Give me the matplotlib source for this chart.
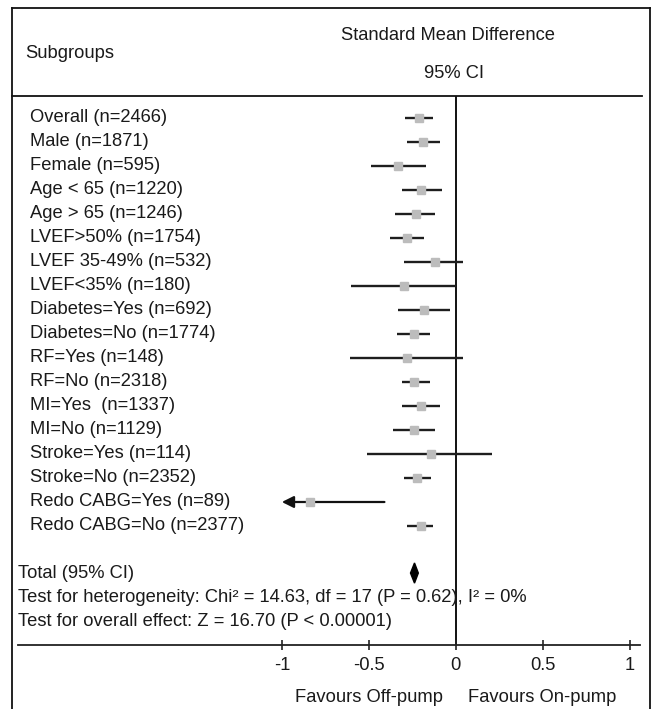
import numpy as np
import matplotlib
matplotlib.use("Agg")
import matplotlib.pyplot as plt
from matplotlib.lines import Line2D
from matplotlib.patches import Polygon

# -----------------------------
# Data
# -----------------------------
subgroups = [
    "Overall (n=2466)", "Male (n=1871)", "Female (n=595)",
    "Age < 65 (n=1220)", "Age > 65 (n=1246)", "LVEF>50% (n=1754)",
    "LVEF 35-49% (n=532)", "LVEF<35% (n=180)", "Diabetes=Yes (n=692)",
    "Diabetes=No (n=1774)", "RF=Yes (n=148)", "RF=No (n=2318)",
    "MI=Yes  (n=1337)", "MI=No (n=1129)", "Stroke=Yes (n=114)",
    "Stroke=No (n=2352)", "Redo CABG=Yes (n=89)", "Redo CABG=No (n=2377)",
]
smd = [-0.21, -0.19, -0.33, -0.20, -0.23, -0.28, -0.12, -0.30, -0.18,
       -0.24, -0.28, -0.24, -0.20, -0.24, -0.14, -0.22, -0.84, -0.20]
ci_low = [-0.29, -0.28, -0.49, -0.31, -0.35, -0.38, -0.30, -0.60, -0.33,
          -0.34, -0.61, -0.31, -0.31, -0.36, -0.51, -0.30, -1.20, -0.28]
ci_high = [-0.13, -0.09, -0.17, -0.08, -0.12, -0.18, 0.04, 0.00, -0.03,
           -0.15, 0.04, -0.15, -0.09, -0.12, 0.21, -0.14, -0.41, -0.13]

total = (-0.26, -0.237, -0.215)  # low, estimate, high
xticks = [-1, -0.5, 0, 0.5, 1]
xtick_labels = ["-1", "-0.5", "0", "0.5", "1"]

plt.rcParams["font.family"] = ["Liberation Sans", "DejaVu Sans"]
FS = 13.2
TXT = "#1a1a1a"

W, H = 654, 709
fig = plt.figure(figsize=(W / 100, H / 100), dpi=100)

# -----------------------------
# Axes placed in pixel terms
# -----------------------------
left_px, right_px, top_px, bot_px = 18, 640, 96, 645
ax = fig.add_axes([left_px / W, 1 - bot_px / H,
                   (right_px - left_px) / W, (bot_px - top_px) / H])
zero_px, unit_px = 455.7, 173.85
ax.set_xlim((left_px - zero_px) / unit_px, (right_px - zero_px) / unit_px)
row0, step = 118, 24.0
ax.set_ylim((bot_px - row0) / step, (top_px - row0) / step)

for s in ["left", "right", "top"]:
    ax.spines[s].set_visible(False)
ax.spines["bottom"].set_linewidth(1.3)
ax.spines["bottom"].set_color("#222222")
ax.set_yticks([])
ax.set_xticks(xticks)
ax.set_xticklabels(xtick_labels, fontsize=FS, color=TXT)
ax.tick_params(axis="x", direction="inout", length=7, width=1.2,
               color="#222222", pad=5)

ax.axvline(0, color="#111111", lw=1.4, zorder=1)

# -----------------------------
# Subgroup rows
# -----------------------------
for i, label in enumerate(subgroups):
    ax.text(0.019, i, label, transform=ax.get_yaxis_transform(),
            fontsize=FS, va="center", ha="left", color=TXT)
    lo, hi = ci_low[i], ci_high[i]
    if lo < -1:
        ax.annotate("", xy=(-1.0, i), xytext=(hi, i),
                    arrowprops=dict(arrowstyle="-|>,head_length=0.7,head_width=0.35",
                                    color="#111111", lw=1.6,
                                    shrinkA=0, shrinkB=0), zorder=2)
    else:
        ax.plot([lo, hi], [i, i], color="#1e1e1e", lw=1.7, zorder=2,
                solid_capstyle="butt")
    ax.plot(smd[i], i, marker="s", ms=6, color="#bcbcbc", mec="#bcbcbc",
            zorder=3)

# total diamond
ty = len(subgroups) + 0.96
lo, est, hi = total
h = 0.42
ax.add_patch(Polygon([[lo, ty], [est, ty - h], [hi, ty], [est, ty + h]],
                     closed=True, color="black", zorder=3))

bottom_text = [
    "Total (95% CI)",
    "Test for heterogeneity: Chi\u00b2 = 14.63, df = 17 (P = 0.62), I\u00b2 = 0%",
    "Test for overall effect: Z = 16.70 (P < 0.00001)",
]
for k, txt in enumerate(bottom_text):
    ax.text(0.0, ty + k * 1.02, txt, transform=ax.get_yaxis_transform(),
            fontsize=FS, va="center", ha="left", color=TXT)

# favours labels
ax.text(-0.5, -0.095, "Favours Off-pump", transform=ax.get_xaxis_transform(),
        fontsize=FS, ha="center", va="center", color=TXT)
ax.text(0.5, -0.095, "Favours On-pump", transform=ax.get_xaxis_transform(),
        fontsize=FS, ha="center", va="center", color=TXT)

# -----------------------------
# Header
# -----------------------------
fig.text(25 / W, 1 - 54 / H, "Subgroups", fontsize=FS, ha="left", va="center",
         color=TXT)
fig.text(448 / W, 1 - 35 / H, "Standard Mean Difference", fontsize=FS,
         ha="center", va="center", color=TXT)
fig.text(454 / W, 1 - 73 / H, "95% CI", fontsize=FS, ha="center", va="center",
         color=TXT)

# frame and header separator
def px_line(x0, y0, x1, y1, lw):
    fig.add_artist(Line2D([x0 / W, x1 / W], [1 - y0 / H, 1 - y1 / H],
                          transform=fig.transFigure, color="#111111", lw=lw))

px_line(12, 8, 650, 8, 1.3)
px_line(12, 8, 12, 709, 1.3)
px_line(650, 8, 650, 709, 1.3)
px_line(12, 96, 642, 96, 1.3)

fig.savefig("out.png", dpi=100)
